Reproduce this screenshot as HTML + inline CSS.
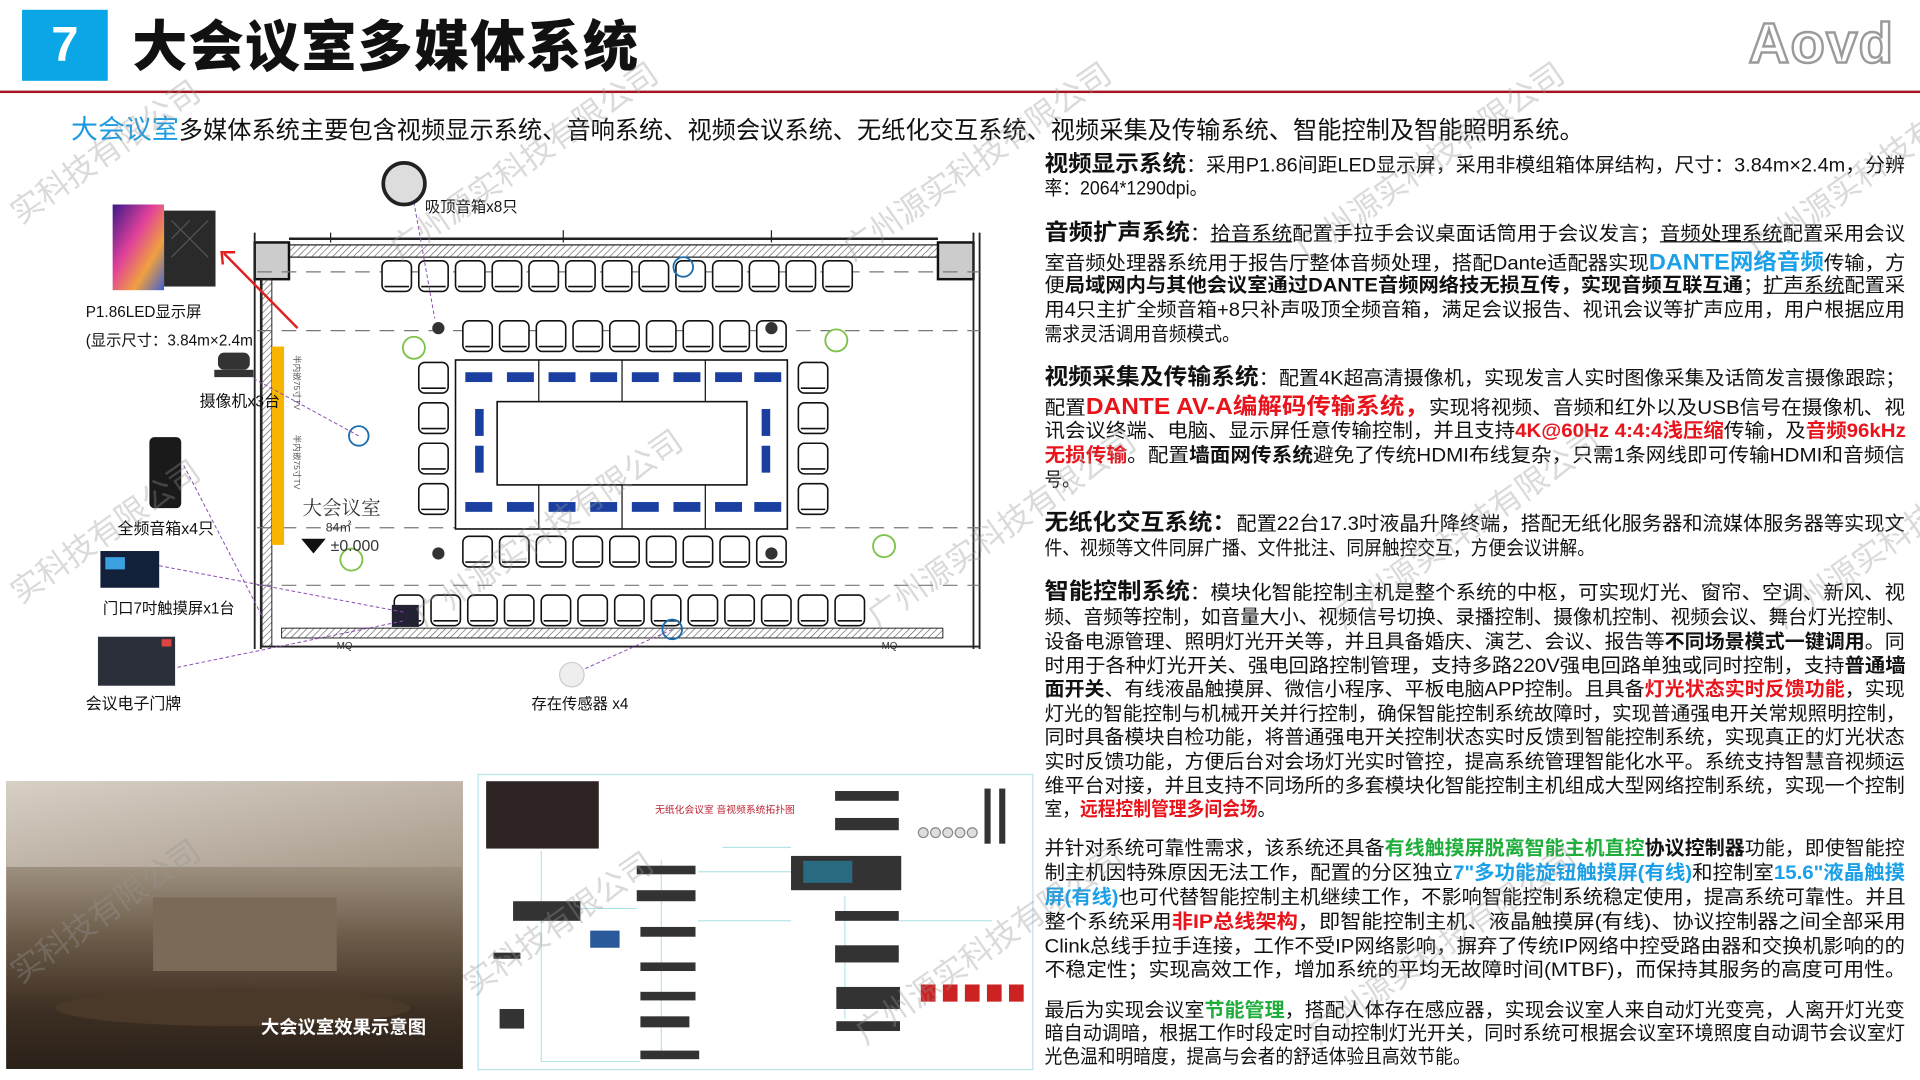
<!DOCTYPE html>
<html><head><meta charset="utf-8">
<style>
html,body{margin:0;padding:0;background:#fff;width:1920px;height:1080px;overflow:hidden}
#w{position:absolute;left:0;top:0;width:1568px;height:873px;transform:scale(1.22449);transform-origin:0 0;font-family:"Liberation Sans","Noto Sans CJK SC",sans-serif;color:#111}
.a{position:absolute;white-space:nowrap}
.t{position:absolute;left:853px;white-space:nowrap;font-size:15.6px;line-height:20px;transform-origin:0 50%}
.h{font-weight:bold;font-size:18.5px}
.b{font-weight:bold}
.r{color:#e8141c;font-weight:bold}
.bl{color:#1aa0e8;font-weight:bold}
.g{color:#1fae3c;font-weight:bold}
.u{text-decoration:underline}
.wm{position:absolute;white-space:nowrap;color:rgba(150,150,150,.35);font-size:26px;transform:rotate(-35deg);transform-origin:0 0;font-family:"Liberation Sans","Noto Sans CJK SC",sans-serif}
.lb{position:absolute;white-space:nowrap;font-size:12.5px;color:#111}
</style></head><body>
<div id="w">
<!-- header -->
<div class="a" style="left:18px;top:8px;width:70px;height:58px;background:#0aa6e6;color:#fff;font-weight:bold;font-size:40px;text-align:center;line-height:58px">7</div>
<div class="a" style="left:108px;top:8px;font-size:45px;font-weight:900;line-height:62px;letter-spacing:1px">大会议室多媒体系统</div>
<div class="a" style="left:1428px;top:8px;font-size:46px;font-weight:bold;color:#fff;-webkit-text-stroke:2px #9a9a9a;font-family:'Liberation Sans',sans-serif;letter-spacing:1px">Aovd</div>
<div class="a" style="left:0;top:74px;width:1568px;height:2px;background:#a3151f"></div>
<div class="a" style="left:58px;top:92px;font-size:19.8px;line-height:28px"><span style="color:#1e9be0;font-size:22px">大会议室</span>多媒体系统主要包含视频显示系统、音响系统、视频会议系统、无纸化交互系统、视频采集及传输系统、智能控制及智能照明系统。</div>

<!-- right text -->
<div class="t j" style="top:124px"><span class="h">视频显示系统</span>：采用P1.86间距LED显示屏，采用非模组箱体屏结构，尺寸：3.84m×2.4m，分辨</div>
<div class="t" style="top:145px">率：2064*1290dpi。</div>
<div class="t j" style="top:180px"><span class="h">音频扩声系统</span>：<span class="u">拾音系统</span>配置手拉手会议桌面话筒用于会议发言；<span class="u">音频处理系统</span>配置采用会议</div>
<div class="t j" style="top:204px">室音频处理器系统用于报告厅整体音频处理，搭配Dante适配器实现<span class="bl" style="font-size:18px">DANTE网络音频</span>传输，方</div>
<div class="t j" style="top:224px">便<span class="b">局域网内与其他会议室通过DANTE音频网络技无损互传，实现音频互联互通</span>；<span class="u">扩声系统</span>配置采</div>
<div class="t j" style="top:244px">用4只主扩全频音箱+8只补声吸顶全频音箱，满足会议报告、视讯会议等扩声应用，用户根据应用</div>
<div class="t" style="top:264px">需求灵活调用音频模式。</div>
<div class="t j" style="top:298px"><span class="h">视频采集及传输系统</span>：配置4K超高清摄像机，实现发言人实时图像采集及话筒发言摄像跟踪；</div>
<div class="t j" style="top:322px">配置<span class="r" style="font-size:18.5px">DANTE AV-A编解码传输系统，</span>实现将视频、音频和红外以及USB信号在摄像机、视</div>
<div class="t j" style="top:343px">讯会议终端、电脑、显示屏任意传输控制，并且支持<span class="r">4K@60Hz 4:4:4浅压缩</span>传输，及<span class="r">音频96kHz</span></div>
<div class="t j" style="top:363px"><span class="r">无损传输</span>。配置<span class="b">墙面网传系统</span>避免了传统HDMI布线复杂，只需1条网线即可传输HDMI和音频信</div>
<div class="t" style="top:383px">号。</div>
<div class="t j" style="top:417px"><span class="h">无纸化交互系统：</span>配置22台17.3吋液晶升降终端，搭配无纸化服务器和流媒体服务器等实现文</div>
<div class="t" style="top:439px">件、视频等文件同屏广播、文件批注、同屏触控交互，方便会议讲解。</div>
<div class="t j" style="top:473px"><span class="h">智能控制系统</span>：模块化智能控制主机是整个系统的中枢，可实现灯光、窗帘、空调、新风、视</div>
<div class="t j" style="top:495px">频、音频等控制，如音量大小、视频信号切换、录播控制、摄像机控制、视频会议、舞台灯光控制、</div>
<div class="t j" style="top:515px">设备电源管理、照明灯光开关等，并且具备婚庆、演艺、会议、报告等<span class="b">不同场景模式一键调用</span>。同</div>
<div class="t j" style="top:535px">时用于各种灯光开关、强电回路控制管理，支持多路220V强电回路单独或同时控制，支持<span class="b">普通墙</span></div>
<div class="t j" style="top:554px"><span class="b">面开关</span>、有线液晶触摸屏、微信小程序、平板电脑APP控制。且具备<span class="r">灯光状态实时反馈功能</span>，实现</div>
<div class="t j" style="top:574px">灯光的智能控制与机械开关并行控制，确保智能控制系统故障时，实现普通强电开关常规照明控制，</div>
<div class="t j" style="top:593px">同时具备模块自检功能，将普通强电开关控制状态实时反馈到智能控制系统，实现真正的灯光状态</div>
<div class="t j" style="top:613px">实时反馈功能，方便后台对会场灯光实时管控，提高系统管理智能化水平。系统支持智慧音视频运</div>
<div class="t j" style="top:633px">维平台对接，并且支持不同场所的多套模块化智能控制主机组成大型网络控制系统，实现一个控制</div>
<div class="t" style="top:652px">室，<span class="r">远程控制管理多间会场</span>。</div>
<div class="t j" style="top:684px">并针对系统可靠性需求，该系统还具备<span class="g">有线触摸屏脱离智能主机直控</span><span class="b">协议控制器</span>功能，即使智能控</div>
<div class="t j" style="top:704px">制主机因特殊原因无法工作，配置的分区独立<span class="bl">7"多功能旋钮触摸屏(有线)</span>和控制室<span class="bl">15.6"液晶触摸</span></div>
<div class="t j" style="top:724px"><span class="bl">屏(有线)</span>也可代替智能控制主机继续工作，不影响智能控制系统稳定使用，提高系统可靠性。并且</div>
<div class="t j" style="top:744px">整个系统采用<span class="r">非IP总线架构</span>，即智能控制主机、液晶触摸屏(有线)、协议控制器之间全部采用</div>
<div class="t j" style="top:764px">Clink总线手拉手连接，工作不受IP网络影响，摒弃了传统IP网络中控受路由器和交换机影响的的</div>
<div class="t j" style="top:783px">不稳定性；实现高效工作，增加系统的平均无故障时间(MTBF)，而保持其服务的高度可用性。</div>
<div class="t j" style="top:816px">最后为实现会议室<span class="g">节能管理</span>，搭配人体存在感应器，实现会议室人来自动灯光变亮，人离开灯光变</div>
<div class="t j" style="top:835px">暗自动调暗，根据工作时段定时自动控制灯光开关，同时系统可根据会议室环境照度自动调节会议室灯</div>
<div class="t" style="top:854px">光色温和明暗度，提高与会者的舒适体验且高效节能。</div>

<!-- floor plan -->
<svg class="a" style="left:0;top:0" width="850" height="630" viewBox="0 0 850 630">
<defs>
<pattern id="hp" width="4" height="4" patternUnits="userSpaceOnUse" patternTransform="rotate(45)"><line x1="0" y1="0" x2="0" y2="4" stroke="#555" stroke-width="1"/></pattern>
<linearGradient id="led" x1="0" y1="0" x2="1" y2="1"><stop offset="0" stop-color="#3b1a8a"/><stop offset=".4" stop-color="#e0409a"/><stop offset=".7" stop-color="#f0a040"/><stop offset="1" stop-color="#4060d0"/></linearGradient>
<g id="c"><rect x="0" y="0" width="24" height="25" rx="5"/><line x1="2" y1="21" x2="22" y2="21"/></g>
</defs>
<!-- walls -->
<rect x="236" y="200" width="530" height="10" fill="url(#hp)" stroke="#222"/>
<line x1="236" y1="195" x2="766" y2="195" stroke="#222" stroke-width="2"/>
<rect x="208" y="198" width="28" height="30" fill="#ccc" stroke="#111" stroke-width="2"/>
<rect x="766" y="198" width="29" height="30" fill="#ccc" stroke="#111" stroke-width="2"/>
<line x1="208" y1="190" x2="208" y2="530" stroke="#222" stroke-width="1.5"/>
<line x1="213" y1="228" x2="213" y2="530" stroke="#222" stroke-width="1.5"/>
<rect x="214" y="228" width="8" height="300" fill="url(#hp)" stroke="#222" stroke-width=".8"/>
<line x1="795" y1="190" x2="795" y2="530" stroke="#222" stroke-width="1.5"/>
<line x1="800" y1="190" x2="800" y2="530" stroke="#222" stroke-width="1.5"/>
<rect x="230" y="513" width="540" height="8" fill="url(#hp)" stroke="#222" stroke-width=".8"/>
<line x1="213" y1="528" x2="800" y2="528" stroke="#222" stroke-width="1.5"/>
<line x1="270" y1="190" x2="270" y2="198" stroke="#222"/><line x1="460" y1="188" x2="460" y2="198" stroke="#222"/><line x1="630" y1="188" x2="630" y2="198" stroke="#222"/>
<!-- dashed -->
<g stroke="#777" stroke-dasharray="12 8" stroke-width="1">
<line x1="210" y1="222" x2="800" y2="222"/><line x1="210" y1="270" x2="800" y2="270"/><line x1="210" y1="431" x2="800" y2="431"/><line x1="210" y1="478" x2="800" y2="478"/>
</g>
<rect x="222" y="283" width="10" height="162" fill="#f7b500"/>
<text x="240" y="290" font-size="7" fill="#555" transform="rotate(90 240 290)">半内嵌75寸TV</text>
<text x="240" y="355" font-size="7" fill="#555" transform="rotate(90 240 355)">半内嵌75寸TV</text>
<!-- chairs -->
<g fill="#fff" stroke="#111" stroke-width="1.3">
<g transform="translate(312,213)"><use href="#c"/><use href="#c" x="30"/><use href="#c" x="60"/><use href="#c" x="90"/><use href="#c" x="120"/><use href="#c" x="150"/><use href="#c" x="180"/><use href="#c" x="210"/><use href="#c" x="240"/><use href="#c" x="270"/><use href="#c" x="300"/><use href="#c" x="330"/><use href="#c" x="360"/></g>
<g transform="translate(378,262)"><use href="#c"/><use href="#c" x="30"/><use href="#c" x="60"/><use href="#c" x="90"/><use href="#c" x="120"/><use href="#c" x="150"/><use href="#c" x="180"/><use href="#c" x="210"/><use href="#c" x="240"/></g>
<g transform="translate(378,438)"><use href="#c"/><use href="#c" x="30"/><use href="#c" x="60"/><use href="#c" x="90"/><use href="#c" x="120"/><use href="#c" x="150"/><use href="#c" x="180"/><use href="#c" x="210"/><use href="#c" x="240"/></g>
<g transform="translate(322,486)"><use href="#c"/><use href="#c" x="30"/><use href="#c" x="60"/><use href="#c" x="90"/><use href="#c" x="120"/><use href="#c" x="150"/><use href="#c" x="180"/><use href="#c" x="210"/><use href="#c" x="240"/><use href="#c" x="270"/><use href="#c" x="300"/><use href="#c" x="330"/><use href="#c" x="360"/></g>
<g transform="translate(342,296)"><use href="#c"/><use href="#c" y="33"/><use href="#c" y="66"/><use href="#c" y="99"/></g>
<g transform="translate(652,296)"><use href="#c"/><use href="#c" y="33"/><use href="#c" y="66"/><use href="#c" y="99"/></g>
</g>
<!-- table -->
<rect x="372" y="294" width="271" height="138" fill="#fff" stroke="#111" stroke-width="1.3"/>
<rect x="406" y="328" width="204" height="68" fill="#fff" stroke="#111" stroke-width="1.3"/>
<g stroke="#111"><line x1="440" y1="294" x2="440" y2="328"/><line x1="508" y1="294" x2="508" y2="328"/><line x1="576" y1="294" x2="576" y2="328"/><line x1="440" y1="396" x2="440" y2="432"/><line x1="508" y1="396" x2="508" y2="432"/><line x1="576" y1="396" x2="576" y2="432"/></g>
<g fill="#1a3fa0"><rect x="380" y="304" width="22" height="8"/><rect x="414" y="304" width="22" height="8"/><rect x="448" y="304" width="22" height="8"/><rect x="482" y="304" width="22" height="8"/><rect x="516" y="304" width="22" height="8"/><rect x="550" y="304" width="22" height="8"/><rect x="584" y="304" width="22" height="8"/><rect x="616" y="304" width="22" height="8"/>
<rect x="380" y="410" width="22" height="8"/><rect x="414" y="410" width="22" height="8"/><rect x="448" y="410" width="22" height="8"/><rect x="482" y="410" width="22" height="8"/><rect x="516" y="410" width="22" height="8"/><rect x="550" y="410" width="22" height="8"/><rect x="584" y="410" width="22" height="8"/><rect x="616" y="410" width="22" height="8"/>
<rect x="388" y="334" width="7" height="22"/><rect x="388" y="364" width="7" height="22"/><rect x="622" y="334" width="7" height="22"/><rect x="622" y="364" width="7" height="22"/></g>
<!-- ceiling items -->
<g fill="#333"><circle cx="358" cy="268" r="5"/><circle cx="630" cy="268" r="5"/><circle cx="358" cy="452" r="5"/><circle cx="630" cy="452" r="5"/></g>
<g fill="#fff" stroke="#7cc24a" stroke-width="1.5"><circle cx="338" cy="284" r="9"/><circle cx="683" cy="278" r="9"/><circle cx="287" cy="457" r="9"/><circle cx="722" cy="446" r="9"/></g>
<g fill="none" stroke="#1a6eb0" stroke-width="1.5"><circle cx="293" cy="356" r="8"/><circle cx="558" cy="218" r="8"/><circle cx="549" cy="514" r="8"/></g>
<text x="247" y="420" font-size="16" fill="#333" font-family="Noto Serif CJK SC,serif">大会议室</text>
<text x="266" y="434" font-size="10" fill="#333">84㎡</text>
<polygon points="246,440 266,440 256,452" fill="#111"/>
<text x="270" y="450" font-size="13" fill="#333">±0.000</text>
<text x="275" y="530" font-size="8" fill="#333">MQ</text><text x="720" y="530" font-size="8" fill="#333">MQ</text>
<rect x="320" y="494" width="22" height="18" fill="#223"/>
<!-- connectors -->
<line x1="243" y1="268" x2="183" y2="207" stroke="#e02020" stroke-width="2"/>
<polyline points="182,216 181,206 192,206" fill="none" stroke="#e02020" stroke-width="2"/>
<g stroke="#8a4db0" stroke-width=".8" stroke-dasharray="3 2" fill="none">
<line x1="293" y1="356" x2="205" y2="308"/><line x1="130" y1="462" x2="330" y2="500"/><line x1="145" y1="545" x2="330" y2="507"/><line x1="549" y1="514" x2="478" y2="546"/><line x1="338" y1="165" x2="355" y2="260"/><line x1="150" y1="380" x2="215" y2="505"/>
</g>
<!-- devices -->
<rect x="92" y="167" width="42" height="70" fill="url(#led)"/>
<rect x="134" y="172" width="42" height="62" fill="#2a2a2a"/>
<path d="M140 180 L170 210 M170 180 L140 210 M140 195 L155 180" stroke="#555" fill="none"/>
<ellipse cx="330" cy="150" rx="17" ry="17" fill="#ddd" stroke="#222" stroke-width="3"/>
<rect x="178" y="288" width="26" height="14" rx="5" fill="#333"/><rect x="175" y="302" width="32" height="6" fill="#333"/>
<rect x="122" y="357" width="26" height="58" rx="4" fill="#1a1a1a"/>
<rect x="82" y="450" width="48" height="30" fill="#12203a"/><rect x="86" y="455" width="16" height="10" fill="#3aa0e0"/>
<rect x="80" y="520" width="63" height="40" fill="#2a2f3a"/><rect x="132" y="522" width="8" height="6" fill="#d44"/>
<ellipse cx="467" cy="551" rx="10" ry="10" fill="#eee" stroke="#ccc"/>
</svg>
<div class="lb" style="left:70px;top:244px">P1.86LED显示屏</div>
<div class="lb" style="left:70px;top:267px">(显示尺寸：3.84m×2.4m</div>
<div class="lb" style="left:163px;top:317px;font-size:13px">摄像机x3台</div>
<div class="lb" style="left:96px;top:421px;font-size:13px">全频音箱x4只</div>
<div class="lb" style="left:84px;top:486px">门口7吋触摸屏x1台</div>
<div class="lb" style="left:70px;top:564px;font-size:13px">会议电子门牌</div>
<div class="lb" style="left:347px;top:158px">吸顶音箱x8只</div>
<div class="lb" style="left:434px;top:564px">存在传感器 x4</div>

<!-- photo -->
<div class="a" style="left:5px;top:638px;width:373px;height:235px;background:linear-gradient(180deg,#bdb3a6 0%,#9d8f7e 30%,#6b5a48 55%,#3c2e22 80%,#2a2119 100%)">
<div class="a" style="left:0;top:0;width:373px;height:70px;background:linear-gradient(170deg,#d8d0c6,#a89b8c)"></div>
<div class="a" style="left:120px;top:95px;width:150px;height:60px;background:#7a6a58"></div>
<div class="a" style="left:40px;top:170px;width:290px;height:30px;border-radius:50%;background:#4a3828"></div>
<div class="a" style="left:208px;top:190px;color:#fff;font-weight:bold;font-size:15px">大会议室效果示意图</div>
</div>
<!-- diagram -->
<div class="a" style="left:390px;top:632px;width:452px;height:240px;border:1px solid #b8e4ea;background:#fff"></div>
<svg class="a" style="left:390px;top:632px" width="454" height="241">
<rect x="7" y="6" width="92" height="55" fill="#2d2423"/>
<text x="145" y="32" font-size="8" fill="#b23">无纸化会议室 音视频系统拓扑图</text>
<g fill="none" stroke="#9adbe0" stroke-width=".7"><path d="M52 63 V235 H133"/><path d="M84 110 H130"/><path d="M180 120 H256"/><path d="M180 80 H256"/><path d="M344 120 H420"/><path d="M200 60 H256"/><path d="M150 70 V230"/><path d="M300 100 V200"/></g>
<g fill="#333"><rect x="29" y="104" width="55" height="16"/><rect x="130" y="75" width="48" height="7"/><rect x="130" y="95" width="48" height="9"/><rect x="133" y="125" width="45" height="8"/><rect x="133" y="154" width="45" height="7"/><rect x="133" y="178" width="45" height="7"/><rect x="133" y="198" width="40" height="9"/><rect x="133" y="226" width="48" height="7"/>
<rect x="256" y="67" width="90" height="28"/><rect x="292" y="14" width="52" height="8"/><rect x="292" y="36" width="52" height="10"/><rect x="292" y="112" width="52" height="8"/><rect x="292" y="140" width="52" height="14"/><rect x="293" y="174" width="52" height="18"/><rect x="293" y="202" width="52" height="8"/>
<rect x="414" y="12" width="5" height="45"/><rect x="426" y="12" width="5" height="45"/><rect x="18" y="192" width="20" height="16"/><rect x="13" y="146" width="22" height="5"/></g>
<rect x="266" y="71" width="40" height="18" fill="#2a6a80"/>
<g fill="#c22"><rect x="362" y="172" width="12" height="14"/><rect x="380" y="172" width="12" height="14"/><rect x="398" y="172" width="12" height="14"/><rect x="416" y="172" width="12" height="14"/><rect x="434" y="172" width="12" height="14"/></g>
<g fill="#ddd" stroke="#888"><circle cx="364" cy="48" r="4"/><circle cx="374" cy="48" r="4"/><circle cx="384" cy="48" r="4"/><circle cx="394" cy="48" r="4"/><circle cx="404" cy="48" r="4"/></g>
<rect x="92" y="128" width="24" height="14" fill="#2a5a9a"/>
</svg>

<!-- watermarks -->
<div class="wm" style="left:0;top:160px">实科技有限公司</div>
<div class="wm" style="left:310px;top:190px">广州源实科技有限公司</div>
<div class="wm" style="left:680px;top:190px">广州源实科技有限公司</div>
<div class="wm" style="left:1050px;top:190px">广州源实科技有限公司</div>
<div class="wm" style="left:1420px;top:190px">广州源实科技有限公司</div>
<div class="wm" style="left:0;top:470px">实科技有限公司</div>
<div class="wm" style="left:330px;top:490px">广州源实科技有限公司</div>
<div class="wm" style="left:700px;top:490px">广州源实科技有限公司</div>
<div class="wm" style="left:1080px;top:490px">广州源实科技有限公司</div>
<div class="wm" style="left:1440px;top:490px">广州源实科技有限公司</div>
<div class="wm" style="left:0;top:780px">实科技有限公司</div>
<div class="wm" style="left:370px;top:790px">实科技有限公司</div>
<div class="wm" style="left:690px;top:830px">广州源实科技有限公司</div>
<div class="wm" style="left:1060px;top:830px">广州源实科技有限公司</div>
</div>
<script>
document.querySelectorAll('.t.j').forEach(function(e){var w=e.scrollWidth;if(w>0){e.style.transform='scaleX('+(703/w)+')';}});
document.querySelectorAll('.t:not(.j)').forEach(function(e){e.style.transform='scaleX(0.93)';});
</script>
</body></html>
